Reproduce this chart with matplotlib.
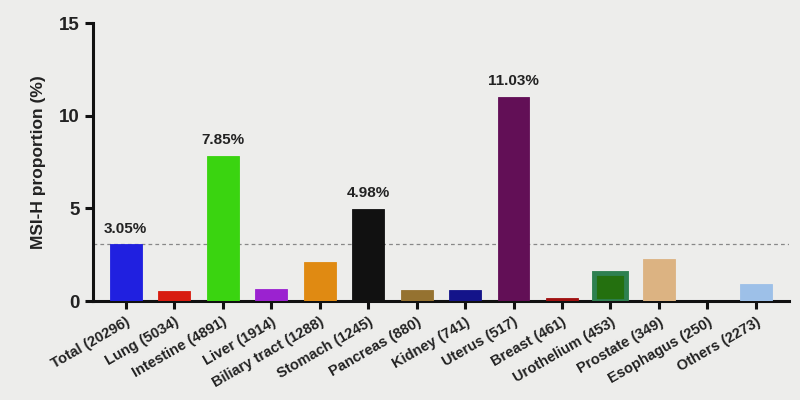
import matplotlib
matplotlib.use("Agg")
import matplotlib.pyplot as plt

categories = ["Total (20296)", "Lung (5034)", "Intestine (4891)", "Liver (1914)",
              "Biliary tract (1288)", "Stomach (1245)", "Pancreas (880)", "Kidney (741)",
              "Uterus (517)", "Breast (461)", "Urothelium (453)", "Prostate (349)",
              "Esophagus (250)", "Others (2273)"]
values = [3.05, 0.54, 7.85, 0.65, 2.12, 4.98, 0.62, 0.62, 11.03, 0.17, 1.52, 2.27, 0.0, 0.92]
labels = {0: "3.05%", 2: "7.85%", 5: "4.98%", 8: "11.03%"}
colors = ["#2020e0", "#d81c10", "#3ad410", "#9b22d0", "#e08a12", "#111111", "#957230",
          "#14148a", "#620f56", "#a01010", "#24700f", "#dcb382", "#888888", "#9dc0e8"]
edges = list(colors)
edges[10] = "#2e8050"
reference = 3.05
yticks = [0, 5, 10, 15]

bg = "#ededeb"
plt.rcParams['font.family'] = ['Liberation Sans', 'DejaVu Sans']
fig = plt.figure(figsize=(8, 4), dpi=100, facecolor=bg)
ax = fig.add_axes([0.116, 0.2475, 0.870, 0.695], facecolor=bg)

x = list(range(len(categories)))
for i, (v, c, e) in enumerate(zip(values, colors, edges)):
    if v <= 0:
        continue
    lw = 3.5 if i == 10 else 0.6
    ax.bar(i, v, width=0.66, color=c, edgecolor=e, linewidth=lw, zorder=3)

for i, t in labels.items():
    ax.text(i, values[i] + 0.45, t, ha="center", va="bottom", fontsize=11, fontweight="bold", color="#222222")

ax.axhline(reference, color="#888888", linestyle=(0, (3, 2.5)), linewidth=0.9, zorder=2)

ax.set_xlim(-0.68, len(categories) - 1 + 0.68)
ax.set_ylim(0, 15)
ax.set_yticks(yticks)
ax.set_yticklabels([str(t) for t in yticks], fontsize=13.5, fontweight="bold", color="#222222")
ax.set_xticks(x)
ax.set_xticklabels(categories, rotation=30, ha="right", rotation_mode="anchor",
                   fontsize=10.5, fontweight="bold", color="#222222")
ax.set_ylabel("MSI-H proportion (%)", fontsize=12.5, fontweight="bold", color="#222222", labelpad=9)

for s in ["top", "right"]:
    ax.spines[s].set_visible(False)
for s in ["left", "bottom"]:
    ax.spines[s].set_linewidth(2.2)
    ax.spines[s].set_color("#111111")
ax.tick_params(axis="both", width=2.2, length=6, color="#111111")
ax.tick_params(axis="x", pad=4)

fig.savefig("out.png", dpi=100, facecolor=bg)
